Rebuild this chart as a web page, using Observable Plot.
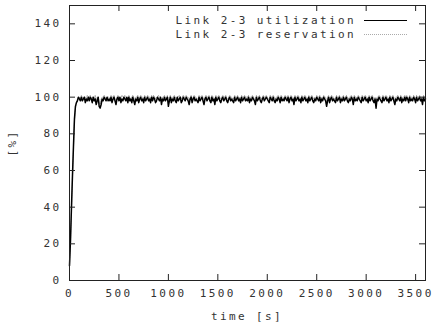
<!DOCTYPE html>
<html>
<head>
<meta charset="utf-8">
<script src="https://cdn.jsdelivr.net/npm/d3@7"></script>
<script src="https://cdn.jsdelivr.net/npm/@observablehq/plot@0.6"></script>
<style>
  html, body { margin: 0; padding: 0; background: #fff; }
  #wrap { position: relative; width: 439px; height: 326px; overflow: hidden; }
  .lbl { position: absolute; font-family: "DejaVu Sans Mono", monospace; font-size: 11px; letter-spacing: 2.4px; color: #333; white-space: nowrap; line-height: 1; }
</style>
</head>
<body>
<div id="wrap"></div>
<script>
// ---- data (time step 10 s, t = 0 .. 3600) ----
const timeStep = 10;
const utilization = [
  8,22,40,57,73,88,95,97,98,100, 99,98,100,98,99,100,97,99,98,100,
  98,100,99,97,100,98,99,96,98,100, 95,94,96,99,98,100,99,98,100,98,
  99,98,100,97,99,100,98,96,99,100, 98,100,97,99,98,100,99,98,100,97,
  100,98,99,97,100,98,96,99,98,100, 97,99,100,98,99,97,100,98,99,100,
  98,99,97,100,98,100,99,97,98,100, 99,98,100,96,99,98,100,98,99,100,
  95,98,100,97,99,98,100,98,97,100, 98,99,100,97,98,100,99,98,100,99,
  98,96,99,100,97,99,100,98,99,98, 97,100,98,99,100,98,96,99,100,98,
  99,100,98,97,100,98,99,96,100,98, 99,100,98,97,99,100,98,99,100,98,
  97,99,100,98,99,98,97,100,98,99, 100,98,99,97,100,98,99,100,98,99,
  98,100,97,99,98,100,99,98,96,100, 98,99,100,98,97,99,100,98,99,100,
  99,98,97,100,99,98,100,98,97,99, 98,100,99,97,100,98,99,98,100,99,
  98,100,97,99,100,98,99,96,100,98, 99,100,98,99,97,100,98,99,100,98,
  99,97,100,98,99,100,98,97,99,98, 100,99,98,100,97,99,98,100,99,98,
  95,98,100,97,99,100,98,99,98,97, 100,98,99,100,97,99,98,100,98,99,
  100,98,97,99,98,100,99,96,100,98, 99,98,100,99,98,97,100,98,99,100,
  98,99,97,100,98,99,100,98,97,99, 94,99,98,100,99,98,97,100,98,99,
  100,98,99,97,100,98,99,100,98,96, 99,98,100,99,98,100,97,99,98,100,
  98,100,99,97,100,98,99,98,100,99, 97,100,98,99,100,98,99,96,100,98,
  99
];
const reservation = [
  8,20,38,56,72,87,94,97,99,100, 100,99,101,100,99,100,100,99,101,100,
  100,101,99,100,100,99,101,98,100,100, 97,96,99,100,100,101,100,99,100,100,
  100,99,101,100,100,101,99,98,100,101, 100,100,99,101,100,100,101,99,100,99,
  101,100,99,100,101,100,98,100,100,101, 99,100,101,100,100,99,101,100,100,101,
  100,100,99,101,100,101,100,99,100,100, 101,100,100,98,100,100,101,100,99,101,
  97,100,101,99,100,100,101,100,99,100, 100,101,100,99,100,101,100,100,101,100,
  100,98,100,101,99,100,101,100,100,99, 99,101,100,100,101,100,98,100,101,100,
  100,101,100,99,101,100,100,98,101,100, 100,101,100,99,100,101,100,100,101,99,
  99,100,101,100,100,99,99,101,100,100, 101,99,100,99,101,100,100,101,100,100,
  100,101,99,100,100,101,100,99,98,101, 100,100,101,100,99,100,101,100,100,101,
  100,99,99,101,100,100,101,100,99,100, 100,101,100,99,101,100,100,99,101,100,
  100,101,99,100,101,100,100,98,101,100, 100,101,100,100,99,101,100,100,101,100,
  100,99,101,100,100,101,100,99,100,99, 101,100,100,101,99,100,99,101,100,100,
  97,100,101,99,100,101,100,100,99,99, 101,100,100,101,99,100,100,101,99,100,
  101,100,99,100,100,101,100,98,101,100, 100,99,101,100,100,99,101,100,100,101,
  100,100,99,101,100,100,101,100,99,100, 96,100,100,101,100,100,99,101,100,100,
  101,100,100,99,101,100,100,101,100,98, 100,100,101,100,99,101,99,100,100,101,
  100,101,100,99,101,100,100,99,101,100, 99,101,100,100,101,100,100,98,101,100,
  100
];
const xTicks = [0, 500, 1000, 1500, 2000, 2500, 3000, 3500];
const yTicks = [0, 20, 40, 60, 80, 100, 120, 140];
const seriesNames = ["Link 2-3 utilization", "Link 2-3 reservation"];
const xLabel = "time [s]";
const yLabel = "[%]";

const util = utilization.map((v, i) => ({t: i * timeStep, v}));
const resv = reservation.map((v, i) => ({t: i * timeStep, v}));

const W = 439, H = 326;
const mL = 69, mR = 14, mT = 5, mB = 46;
const tick = 6;

const chart = Plot.plot({
  width: W, height: H,
  marginLeft: mL, marginRight: mR, marginTop: mT, marginBottom: mB,
  style: {fontFamily: "DejaVu Sans Mono, monospace", fontSize: "11px", letterSpacing: "2.4px", color: "#333", background: "#fff"},
  x: {domain: [0, 3600], ticks: xTicks, tickSize: 0, tickPadding: 9, label: null, tickFormat: d => String(d)},
  y: {domain: [0, 150], ticks: yTicks, tickSize: 0, tickPadding: 8, label: null, tickFormat: d => String(d)},
  marks: [
    Plot.line(resv, {x: "t", y: "v", stroke: "#aaa", strokeWidth: 1, strokeDasharray: "1,1"}),
    Plot.line(util, {x: "t", y: "v", stroke: "#000", strokeWidth: 1.5}),
    // inward ticks: bottom/top
    Plot.tickX(xTicks, {x: d => d, stroke: "#222", insetTop: H - mT - mB - tick}),
    Plot.tickX(xTicks, {x: d => d, stroke: "#222", insetBottom: H - mT - mB - tick}),
    // inward ticks: left/right
    Plot.tickY(yTicks, {y: d => d, stroke: "#222", insetRight: W - mL - mR - tick}),
    Plot.tickY(yTicks, {y: d => d, stroke: "#222", insetLeft: W - mL - mR - tick}),
    Plot.frame({stroke: "#222"})
  ]
});

const wrap = document.getElementById("wrap");
wrap.appendChild(chart);

function addLabel(text, css) {
  const d = document.createElement("div");
  d.className = "lbl";
  d.textContent = text;
  Object.assign(d.style, css);
  wrap.appendChild(d);
  return d;
}
// axis titles
addLabel(xLabel, {left: (mL + (W - mR - mL) / 2) + "px", top: "311px", transform: "translateX(-50%)"});
addLabel(yLabel, {left: "12px", top: (mT + (H - mT - mB) / 2) + "px", transform: "translate(-50%, -50%) rotate(-90deg)"});

// legend
const legendRows = [
  {name: seriesNames[0], stroke: "#000", dash: null, top: 15},
  {name: seriesNames[1], stroke: "#aaa", dash: "1,1", top: 29}
];
legendRows.forEach(r => {
  addLabel(r.name, {right: (439 - 356) + "px", top: r.top + "px"});
  const svgNS = "http://www.w3.org/2000/svg";
  const s = document.createElementNS(svgNS, "svg");
  s.setAttribute("width", "44"); s.setAttribute("height", "3");
  s.style.position = "absolute"; s.style.left = "364px"; s.style.top = (r.top + 4) + "px";
  const ln = document.createElementNS(svgNS, "line");
  ln.setAttribute("x1", 0); ln.setAttribute("x2", 43); ln.setAttribute("y1", 1.5); ln.setAttribute("y2", 1.5);
  ln.setAttribute("stroke", r.stroke); ln.setAttribute("stroke-width", 1);
  if (r.dash) ln.setAttribute("stroke-dasharray", r.dash);
  s.appendChild(ln);
  wrap.appendChild(s);
});
</script>
</body>
</html>
